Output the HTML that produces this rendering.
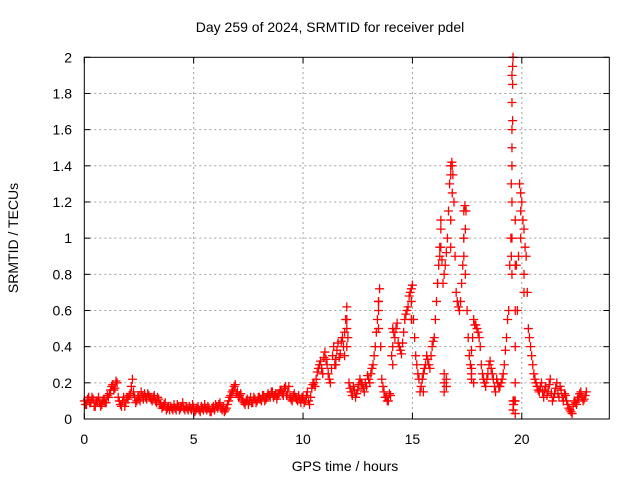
<!DOCTYPE html>
<html><head><meta charset="utf-8"><style>
body{margin:0;background:#fff}
svg{display:block;font-family:"Liberation Sans",sans-serif;font-size:14px}
</style></head><body>
<svg id="chart" width="640" height="480" viewBox="0 0 640 480">
<rect width="640" height="480" fill="#fff"/>
<text x="330" y="32" text-anchor="middle">Day 259 of 2024, SRMTID for receiver pdel</text>
<text x="345" y="471" text-anchor="middle">GPS time / hours</text>
<text transform="translate(18,238) rotate(-90)" text-anchor="middle">SRMTID / TECUs</text>
<g id="grid"></g>
<g id="ticks"></g>
<g id="marks"></g>
<rect x="84.3" y="57.3" width="525" height="361.7" fill="none" stroke="#000" stroke-width="1"/>
</svg>
<script>
const xTicks=[0,5,10,15,20];
const yTicks=[0,0.2,0.4,0.6,0.8,1,1.2,1.4,1.6,1.8,2];
const yTickLabels=["0","0.2","0.4","0.6","0.8","1","1.2","1.4","1.6","1.8","2"];
const startHour=0, stepHour=0.1;
const mainValues=[
0.10,0.08,0.12,0.09,0.11,0.07,0.10,0.09,0.08,0.11,
0.09,0.12,0.16,0.19,0.17,0.20,0.10,0.07,0.12,0.09,
0.11,0.14,0.22,0.12,0.10,0.13,0.15,0.11,0.12,0.14,
0.12,0.10,0.13,0.09,0.11,0.08,0.07,0.09,0.06,0.05,
0.06,0.08,0.05,0.07,0.06,0.09,0.05,0.06,0.07,0.05,
0.06,0.05,0.07,0.04,0.06,0.08,0.05,0.06,0.04,0.07,
0.08,0.06,0.09,0.05,0.04,0.06,0.10,0.13,0.16,0.19,
0.15,0.13,0.11,0.09,0.10,0.08,0.12,0.09,0.11,0.10,
0.12,0.10,0.13,0.11,0.14,0.12,0.15,0.13,0.11,0.14,
0.16,0.13,0.18,0.15,0.12,0.10,0.14,0.11,0.13,0.09,
0.12,0.10,0.15,0.08,0.17,0.20,0.22,0.28,0.32,0.25,
0.37,0.30,0.22,0.28,0.40,0.33,0.42,0.36,0.45,0.48,
0.62,0.20,0.15,0.18,0.12,0.16,0.22,0.19,0.15,0.18,
0.22,0.25,0.30,0.40,0.55,0.72,0.22,0.15,0.12,0.10,
0.13,0.50,0.45,0.53,0.40,0.36,0.48,0.58,0.62,0.70,
0.74,0.45,0.30,0.22,0.18,0.25,0.30,0.33,0.28,0.40,
0.45,0.65,0.85,1.05,0.75,0.85,1.00,1.30,1.42,1.20,
0.70,0.62,0.65,0.85,1.18,0.60,0.35,0.38,0.55,0.52,
0.48,0.40,0.25,0.20,0.22,0.30,0.28,0.22,0.15,0.20,
0.18,0.22,0.30,0.45,0.60,1.00,2.00,1.10,0.60,1.30,
1.20,1.05,0.90,0.50,0.40,0.30,0.22,0.18,0.15,0.20,
0.12,0.18,0.15,0.22,0.10,0.14,0.20,0.12,0.16,0.10,
0.13,0.08,0.05,0.03,0.10,0.08,0.12,0.15,0.10,0.13];
const halfStepValues=[
0.08,0.11,0.09,0.12,0.07,0.10,0.12,0.07,0.10,0.09,
0.13,0.14,0.18,0.16,0.21,0.12,0.08,0.10,0.07,0.12,
0.13,0.18,0.15,0.09,0.12,0.10,0.13,0.14,0.11,0.13,
0.11,0.12,0.10,0.12,0.08,0.06,0.08,0.05,0.07,0.07,
0.05,0.06,0.08,0.05,0.07,0.06,0.07,0.05,0.06,0.08,
0.04,0.06,0.05,0.07,0.05,0.06,0.07,0.04,0.06,0.05,
0.07,0.08,0.06,0.07,0.05,0.08,0.12,0.15,0.18,0.14,
0.12,0.14,0.10,0.08,0.11,0.10,0.09,0.12,0.09,0.12,
0.11,0.13,0.10,0.12,0.13,0.15,0.12,0.14,0.13,0.16,
0.14,0.17,0.13,0.18,0.11,0.13,0.12,0.10,0.11,0.12,
0.09,0.13,0.10,0.12,0.19,0.18,0.26,0.30,0.28,0.34,
0.33,0.25,0.20,0.35,0.30,0.38,0.34,0.43,0.40,0.55,
0.45,0.17,0.13,0.16,0.14,0.19,0.20,0.17,0.20,0.24,
0.20,0.28,0.35,0.48,0.65,0.40,0.18,0.12,0.10,0.14,
0.35,0.48,0.50,0.42,0.38,0.42,0.55,0.60,0.68,0.72,
0.55,0.35,0.25,0.15,0.22,0.28,0.35,0.30,0.35,0.43,
0.55,0.75,0.95,0.88,0.80,0.92,1.15,1.40,1.35,0.90,
0.65,0.60,0.75,1.00,1.15,0.45,0.30,0.45,0.52,0.50,
0.45,0.30,0.22,0.18,0.25,0.32,0.25,0.18,0.22,0.18,
0.20,0.25,0.38,0.55,0.85,1.50,0.10,0.85,0.90,1.25,
1.10,0.95,0.70,0.45,0.35,0.25,0.20,0.16,0.18,0.15,
0.16,0.13,0.19,0.14,0.12,0.17,0.14,0.18,0.12,0.14,
0.10,0.06,0.04,0.07,0.09,0.11,0.14,0.12,0.11,0.15];
const extraHours=[19.55,19.55,19.55,19.55,19.55,19.55,19.55,19.6,19.6,19.62,19.7,19.7,19.7,19.7,19.7,19.7,19.95,19.95,16.75,16.75,16.75,17.35,17.35,17.35,16.45,16.45,16.45,16.55,16.55,17.7,17.7,17.7,17.8,13.45,13.45,13.45,12.0,12.0,12.0,20.1,20.1,15.5,14.1,14.1,11.5,11.9,16.25,16.15,19.58,19.58,19.58,19.52,19.52,16.82,16.82,17.42,17.42,14.95,14.95,16.3,16.3];
const extraValues=[0.8,1.0,1.2,1.4,1.6,1.75,1.9,0.05,0.1,0.08,0.03,0.1,0.2,0.4,0.6,0.85,1.0,1.15,1.35,1.1,0.95,0.9,1.0,1.15,0.2,0.25,0.15,0.22,0.18,0.22,0.28,0.25,0.2,0.5,0.6,0.65,0.5,0.55,0.4,0.7,0.8,0.15,0.3,0.4,0.3,0.35,0.9,0.75,1.85,1.95,1.65,0.9,1.3,1.4,1.25,1.05,0.8,0.65,0.55,1.1,0.95];

const NS="http://www.w3.org/2000/svg";
const X0=84.3,X1=609.3,Y0=419,Y1=57.3;
function xs(h){return X0+(h-0)/24*(X1-X0);}
function ys(v){return Y0-(v-0)/2*(Y0-Y1);}
const grid=document.getElementById('grid'),ticks=document.getElementById('ticks'),marks=document.getElementById('marks');
function line(p,x1,y1,x2,y2,st,dash){const l=document.createElementNS(NS,'line');l.setAttribute('x1',x1);l.setAttribute('y1',y1);l.setAttribute('x2',x2);l.setAttribute('y2',y2);l.setAttribute('stroke',st);if(dash)l.setAttribute('stroke-dasharray',dash);p.appendChild(l);return l;}
function txt(x,y,s,anchor){const t=document.createElementNS(NS,'text');t.setAttribute('x',x);t.setAttribute('y',y);t.setAttribute('text-anchor',anchor);t.textContent=s;document.getElementById('chart').appendChild(t);return t;}
xTicks.forEach(v=>{const x=xs(v);
 if(v>0){const g=line(grid,x,Y0,x,Y1,'#a0a0a0','2,3');
 
 }
 line(ticks,x,Y0,x,Y0-6,'#000');line(ticks,x,Y1,x,Y1+6,'#000');
 const t=txt(x,444,String(v),'middle');
 
 });
yTicks.forEach((v,i)=>{const y=ys(v);
 if(v>0&&v<2){const g=line(grid,X0,y,X1,y,'#a0a0a0','2,3');
 
 }
 line(ticks,X0,y,X0+6,y,'#000');line(ticks,X1,y,X1-6,y,'#000');
 const t=txt(72,y+5,yTickLabels[i],'end');
 
 });
function plus(h,v){const x=xs(h),y=ys(v);const p=document.createElementNS(NS,'path');
 p.setAttribute('d',`M${x-4.5},${y}H${x+4.5}M${x},${y-4.5}V${y+4.5}`);
 p.setAttribute('stroke','#ff0000');p.setAttribute('stroke-width','1.3');
 
 
 marks.appendChild(p);}
mainValues.forEach((v,i)=>plus(startHour+i*stepHour,v));
halfStepValues.forEach((v,i)=>plus(startHour+stepHour/2+i*stepHour,v));
extraValues.forEach((v,i)=>plus(extraHours[i],v));
</script>
</body></html>
